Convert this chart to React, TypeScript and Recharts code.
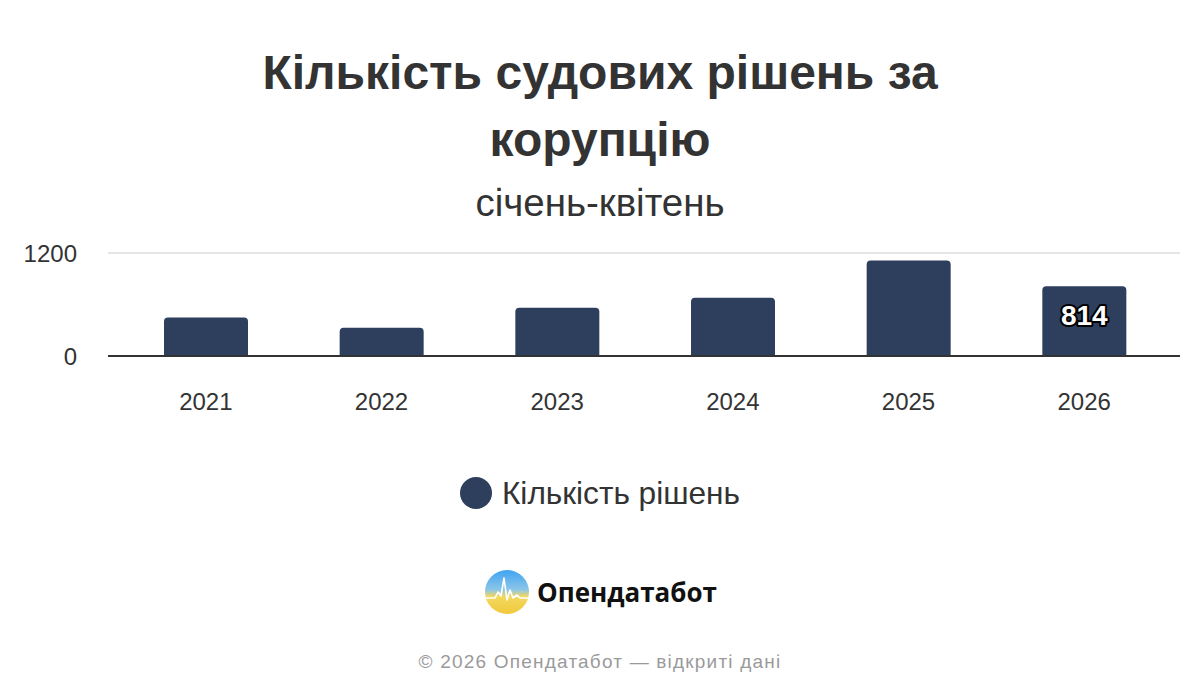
import { BarChart, Bar, XAxis, YAxis, CartesianGrid, LabelList } from 'recharts';

const years = ['2021', '2022', '2023', '2024', '2025', '2026'];
const decisions = [448, 329, 563, 678, 1113, 814];
const yTicks = [0, 1200];
const seriesName = 'Кількість рішень';

const data = years.map((year, i) => ({ year, value: decisions[i] }));

const BAR = '#2E3E5D';
const TEXT = '#333333';
const FONT = '"Liberation Sans", Arial, sans-serif';

// only the latest year gets a value label
const LastLabel = (props: any) => {
  const { x, y, width, value, index } = props;
  if (index !== data.length - 1) return null;
  return (
    <text
      x={x + width / 2}
      y={y + 29}
      textAnchor="middle"
      dominantBaseline="central"
      fill="#fff"
      stroke="#000"
      strokeWidth={4}
      strokeLinejoin="round"
      paintOrder="stroke"
      fontSize={28}
      fontWeight="bold"
      fontFamily={FONT}
    >
      {value}
    </text>
  );
};

const Logo = () => (
  <svg width={48} height={48} viewBox="0 0 48 48">
    <defs>
      <linearGradient id="logoGrad" x1="0" y1="0" x2="0" y2="1">
        <stop offset="0%" stopColor="#3FA3F2" />
        <stop offset="45%" stopColor="#8CC6E8" />
        <stop offset="60%" stopColor="#F3D860" />
        <stop offset="100%" stopColor="#F1C93C" />
      </linearGradient>
    </defs>
    <circle cx={24} cy={24} r={22} fill="url(#logoGrad)" />
    <path
      d="M2 30 L12 30 L15 24 L18 28 L21 10 L24 32 L27 22 L30 30 L34 27 L37 30 L46 30"
      fill="none"
      stroke="#fff"
      strokeWidth={1.6}
      strokeLinejoin="round"
    />
  </svg>
);

export default function App() {
  return (
    <div style={{ position: 'absolute', left: 0, top: 0, width: 1200, height: 700, background: '#fff', fontFamily: FONT, color: TEXT }}>
      <div style={{ position: 'absolute', top: 39, width: 1200, textAlign: 'center', fontSize: 48, fontWeight: 'bold', lineHeight: '67px' }}>
        Кількість судових рішень за<br />корупцію
      </div>
      <div style={{ position: 'absolute', top: 181, width: 1200, textAlign: 'center', fontSize: 38.5, lineHeight: '44px' }}>
        січень-квітень
      </div>

      <div style={{ position: 'absolute', left: 0, top: 0 }}>
        <BarChart width={1200} height={416} data={data} margin={{ top: 253, right: 20, left: 0, bottom: 0 }}>
          <CartesianGrid vertical={false} stroke="#e6e6e6" strokeWidth={2} />
          <XAxis
            dataKey="year"
            padding={{ left: 10, right: 8 }}
            axisLine={{ stroke: '#333', strokeWidth: 2 }}
            tickLine={false}
            tickMargin={31}
            height={60}
            tick={{ fill: TEXT, fontSize: 24, fontFamily: FONT }}
          />
          <YAxis
            domain={[0, 1200]}
            ticks={yTicks}
            width={108}
            axisLine={false}
            tickLine={false}
            tickMargin={25}
            tick={{ fill: TEXT, fontSize: 24, fontFamily: FONT }}
          />
          <Bar dataKey="value" name={seriesName} fill={BAR} barSize={84} radius={[4, 4, 0, 0]} isAnimationActive={false}>
            <LabelList dataKey="value" content={LastLabel} />
          </Bar>
        </BarChart>
      </div>

      {/* legend */}
      <div style={{ position: 'absolute', top: 473, left: 0, width: 1200, display: 'flex', justifyContent: 'center', alignItems: 'center', gap: 10 }}>
        <span style={{ width: 32, height: 32, borderRadius: '50%', background: BAR, display: 'inline-block' }} />
        <span style={{ fontSize: 31.6, lineHeight: '40px' }}>{seriesName}</span>
      </div>

      <div style={{ position: 'absolute', top: 568, left: 0, width: 1200, display: 'flex', justifyContent: 'center', alignItems: 'center', gap: 6 }}>
        <Logo />
        <span style={{ fontFamily: '"Open Sans", "Noto Sans", sans-serif', fontWeight: 700, fontSize: 26, color: '#111' }}>Опендатабот</span>
      </div>

      <div style={{ position: 'absolute', top: 651, width: 1200, textAlign: 'center', fontSize: 19, letterSpacing: 1.2, color: '#9a9a9a' }}>
        © 2026 Опендатабот — відкриті дані
      </div>
    </div>
  );
}
